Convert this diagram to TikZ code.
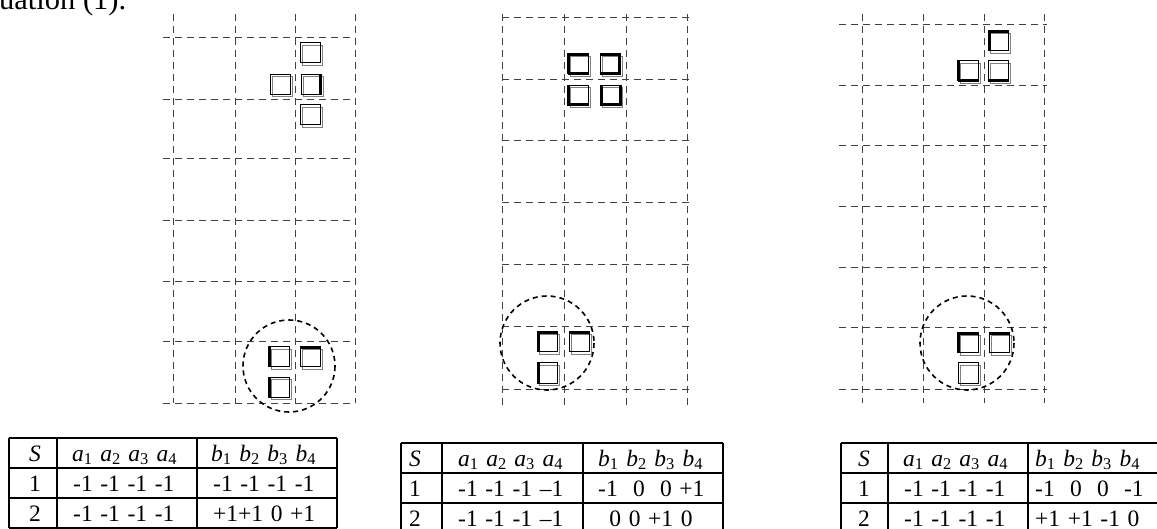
\documentclass[tikz,border=0pt]{standalone}
\usepackage{fontspec}
\setmainfont{Liberation Serif}
\newfontfamily\tabfont{Liberation Serif}[WordSpace=1.3]
\newcommand{\sqcell}[3]{%
  \draw[shade] (#2-8,#3-8) rectangle (#2+12,#3+12);
  \node[cellbox] (#1) at (#2,#3) {};
}
\newcommand{\thL}[1]{\draw[thk] ([xshift=1pt]#1.north west) -- ([xshift=1pt]#1.south west);}
\newcommand{\thR}[1]{\draw[thk] ([xshift=-1pt]#1.north east) -- ([xshift=-1pt]#1.south east);}
\newcommand{\thT}[1]{\draw[thk] ([yshift=-1pt]#1.north west) -- ([yshift=-1pt]#1.north east);}
\newcommand{\thB}[1]{\draw[thk] ([yshift=1pt]#1.south west) -- ([yshift=1pt]#1.south east);}
\newcommand{\ai}[1]{\textit{a}\textsubscript{#1}}
\newcommand{\bi}[1]{\textit{b}\textsubscript{#1}}
\begin{document}
\begin{tikzpicture}[x=1pt,y=-1pt,
  gridline/.style={draw=black!75, line width=1pt, dash pattern=on 7pt off 5pt},
  ring/.style={draw=black, line width=1.6pt, dash pattern=on 5pt off 4pt},
  cellbox/.style={draw=black, line width=1pt, minimum size=20pt, inner sep=0pt},
  shade/.style={draw=black!50, line width=0.9pt},
  thk/.style={draw=black, line width=3pt},
  tabline/.style={draw=black, line width=1.4pt},
  tabtext/.style={font=\tabfont\fontsize{23.5}{26}\selectfont, inner sep=0pt, anchor=base west},
  tabnum/.style={font=\tabfont\fontsize{23.5}{26}\selectfont, inner sep=0pt, anchor=base},
]
\useasboundingbox (0,0) rectangle (1157,529);
\clip (0,0) rectangle (1157,529);

% caption fragment
\node[anchor=base west, font=\fontsize{30.5}{33}\selectfont, inner sep=0pt] (eq) at (-1,9.5) {uation (1).};

% ---------- panel 1 ----------
\foreach \x in {173,235,295,355} \draw[gridline] (\x,14) -- (\x,403);
\foreach \y in {38,100,159,221,282,342,403} \draw[gridline] (163,\y) -- (355,\y);
\sqcell{pa}{310.5}{53}
\sqcell{pb}{280}{84.5}
\sqcell{pc}{311}{84.5}
\sqcell{pd}{310.5}{115}
\thR{pc}
\draw[ring] (289,366) circle[radius=46];
\sqcell{pe}{279}{357}
\sqcell{pf}{310}{357}
\sqcell{pg}{279}{387.5}
\thL{pe} \thT{pf} \thL{pg}

% ---------- panel 2 ----------
\foreach \x in {502,564,626,687} \draw[gridline] (\x,14) -- (\x,405);
\foreach \y in {18,80,141,203,265,327,389} \draw[gridline] (502,\y) -- (692,\y);
\sqcell{qa}{578}{64}
\sqcell{qb}{610}{64}
\sqcell{qc}{578}{95.5}
\sqcell{qd}{610.5}{95.5}
\thL{qa} \thT{qa} \thB{qa}
\thT{qb} \thR{qb} \thB{qb}
\thL{qc} \thB{qc}
\thL{qd} \thR{qd} \thB{qd}
\draw[ring] (547,343) circle[radius=47];
\sqcell{qe}{547.5}{342}
\sqcell{qf}{579.5}{342}
\sqcell{qg}{547.5}{373}
\thL{qe} \thT{qe} \thT{qf} \thL{qg}

% ---------- panel 3 ----------
\foreach \x in {862,923,984,1044} \draw[gridline] (\x,14) -- (\x,403);
\foreach \y in {25,86,146,207,268,328,389} \draw[gridline] (839,\y) -- (1047,\y);
\sqcell{ra}{998.5}{41}
\sqcell{rb}{968}{71}
\sqcell{rc}{998.5}{71}
\thL{ra} \thT{ra}
\thL{rb} \thB{rb}
\thB{rc}
\draw[ring] (967,343) circle[radius=47];
\sqcell{re}{968}{343}
\sqcell{rf}{999}{343}
\sqcell{rg}{968}{373}
\thL{re} \thT{re} \thT{rf}

% ---------- table 1 ----------
\foreach \y in {438,468,498,528} \draw[tabline] (9,\y) -- (337,\y);
\foreach \x in {9,57,197,337} \draw[tabline] (\x,438) -- (\x,528);
\node[tabnum] (t1s) at (35,461) {\textit{S}};
\node[tabtext] (t1a) at (72,461) {\ai1 \ai2 \ai3 \ai4};
\node[tabtext] (t1b) at (211,461) {\bi1 \bi2 \bi3 \bi4};
\node[tabnum] (t1r1) at (35,491) {1};
\node[tabtext] (t1r1a) at (73,491) {-1 -1 -1 -1};
\node[tabtext] (t1r1b) at (213,491) {-1 -1 -1 -1};
\node[tabnum] (t1r2) at (35,521) {2};
\node[tabtext] (t1r2a) at (73,521) {-1 -1 -1 -1};
\node[tabtext] (t1r2b) at (213,521) {+1+1 0 +1};

% ---------- table 2 ----------
\foreach \y in {443,473,503,533} \draw[tabline] (401,\y) -- (723,\y);
\foreach \x in {401,442,583,723} \draw[tabline] (\x,443) -- (\x,533);
\node[tabnum] (t2s) at (415,466) {\textit{S}};
\node[tabtext] (t2a) at (458,466) {\ai1 \ai2 \ai3 \ai4};
\node[tabtext] (t2b) at (598,466) {\bi1 \bi2 \bi3 \bi4};
\node[tabnum] (t2r1) at (415,496) {1};
\node[tabtext] (t2r1a) at (458,496) {-1 -1 -1 –1};
\node[tabtext] (t2r1b) at (598,496) {-1\ \ 0\ \ 0 +1};
\node[tabnum] (t2r2) at (415,526) {2};
\node[tabtext] (t2r2a) at (458,526) {-1 -1 -1 –1};
\node[tabnum] (t2r2b) at (651,526) {0 0 +1 0};

% ---------- table 3 ----------
\foreach \y in {443,473,503,533} \draw[tabline] (841,\y) -- (1170,\y);
\foreach \x in {841,888,1028,1170} \draw[tabline] (\x,443) -- (\x,533);
\node[tabnum] (t3s) at (864,466) {\textit{S}};
\node[tabtext] (t3a) at (903,466) {\ai1 \ai2 \ai3 \ai4};
\node[tabtext] (t3b) at (1035,466) {\bi1 \bi2 \bi3 \bi4};
\node[tabnum] (t3r1) at (864,496) {1};
\node[tabtext] (t3r1a) at (904,496) {-1 -1 -1 -1};
\node[tabtext] (t3r1b) at (1035,496) {-1\ \ 0\ \ 0\ \ -1};
\node[tabnum] (t3r2) at (864,526) {2};
\node[tabtext] (t3r2a) at (904,526) {-1 -1 -1 -1};
\node[tabtext] (t3r2b) at (1035,526) {+1 +1 -1 0};
\end{tikzpicture}
\end{document}
